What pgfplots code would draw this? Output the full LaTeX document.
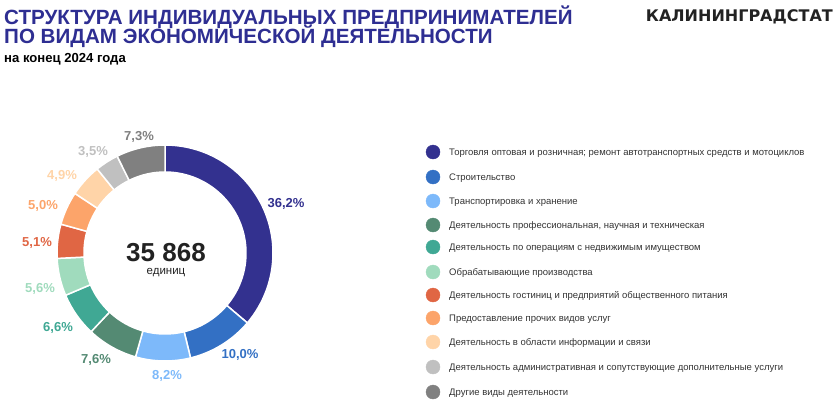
\documentclass[border=0pt]{standalone}
\usepackage{fontspec}
\setmainfont{Liberation Sans}
\newfontfamily\headfont{DejaVu Sans}
\usepackage{pgfplots}
\usepackage{pgfplotstable}
\pgfplotsset{compat=1.18}
\definecolor{c0}{HTML}{33318F}
\definecolor{c1}{HTML}{3370C4}
\definecolor{c2}{HTML}{7DB9FA}
\definecolor{c3}{HTML}{548A73}
\definecolor{c4}{HTML}{40A894}
\definecolor{c5}{HTML}{A0DBBD}
\definecolor{c6}{HTML}{E06644}
\definecolor{c7}{HTML}{FCA46A}
\definecolor{c8}{HTML}{FFD4A8}
\definecolor{c9}{HTML}{C0C0C0}
\definecolor{c10}{HTML}{808080}
\definecolor{titleblue}{HTML}{2E2E92}
\definecolor{dark}{HTML}{222222}
\definecolor{legtext}{HTML}{333333}
\newcommand\labfont{\fontsize{13}{15}\selectfont\bfseries}
\newcommand\legfont{\fontsize{9.5}{11}\selectfont}
\newcommand\titlefont{\fontsize{20.6}{24}\selectfont\bfseries}
\pgfplotstableread{
v lx ly
36.2 286 204
10.0 240 355
8.2 167 376
7.6 96 360
6.6 58 328
5.6 40 289
5.1 37 243
5.0 43 206
4.9 62 176
3.5 93 152
7.3 139 137
}\data
\begin{document}
\begin{tikzpicture}
\useasboundingbox (0,0) rectangle (840pt,405pt);
\begin{axis}[at={(0,0)}, anchor=south west, width=840pt, height=405pt, scale only axis,
  xmin=0, xmax=840, ymin=0, ymax=405, y dir=reverse, hide axis, clip=false,
  /pgf/number format/assume math mode=true]
\def\cum{0}
\pgfplotsforeachungrouped \i in {0,...,10}{%
  \pgfplotstablegetelem{\i}{v}\of\data \let\v\pgfplotsretval
  \pgfplotstablegetelem{\i}{lx}\of\data \let\lx\pgfplotsretval
  \pgfplotstablegetelem{\i}{ly}\of\data \let\ly\pgfplotsretval
  \pgfmathsetmacro\aA{90-3.6*\cum}%
  \pgfmathsetmacro\aB{90-3.6*(\cum+\v)}%
  \edef\tmp{\noexpand\fill[c\i, draw=white, line width=1.5pt] ([shift={(\aA:108pt)}]axis cs:165,253) arc[start angle=\aA, end angle=\aB, radius=108pt] -- ([shift={(\aB:81pt)}]axis cs:165,253) arc[start angle=\aB, end angle=\aA, radius=81pt] -- cycle;
  \noexpand\node[text=c\i, font=\noexpand\labfont, inner sep=0pt] at (axis cs:\lx,\ly) {\noexpand\pgfmathprintnumber[fixed,fixed zerofill,precision=1,use comma]{\v}\noexpand\%};}%
  \tmp
  \pgfmathsetmacro\cum{\cum+\v}%
}
% centre
\node[anchor=base, inner sep=0pt, text=dark, font=\fontsize{26}{30}\selectfont\bfseries] at (axis cs:166,261) {35 868};
\node[anchor=base, inner sep=0pt, text=dark, font=\fontsize{11.5}{13}\selectfont] at (axis cs:166,274.5) {единиц};
% titles
\node[anchor=base west, inner sep=0pt, text=titleblue, font=\titlefont] at (axis cs:4,24) {СТРУКТУРА ИНДИВИДУАЛЬНЫХ ПРЕДПРИНИМАТЕЛЕЙ};
\node[anchor=base west, inner sep=0pt, text=titleblue, font=\titlefont] at (axis cs:4,43.5) {ПО ВИДАМ ЭКОНОМИЧЕСКОЙ ДЕЯТЕЛЬНОСТИ};
\node[anchor=base west, inner sep=0pt, text=black, font=\fontsize{13.1}{15}\selectfont\bfseries] at (axis cs:4,62) {на конец 2024 года};
\node[anchor=base east, inner sep=0pt, text=dark, font=\headfont\fontsize{16}{18}\selectfont\bfseries] at (axis cs:833,21.5) {КАЛИНИНГРАДСТАТ};
% legend
\addplot[only marks, mark=*, mark size=7pt, color=c0] coordinates {(433,152)};
\addplot[only marks, mark=*, mark size=7pt, color=c1] coordinates {(433,177)};
\addplot[only marks, mark=*, mark size=7pt, color=c2] coordinates {(433,201)};
\addplot[only marks, mark=*, mark size=7pt, color=c3] coordinates {(433,225)};
\addplot[only marks, mark=*, mark size=7pt, color=c4] coordinates {(433,247)};
\addplot[only marks, mark=*, mark size=7pt, color=c5] coordinates {(433,272)};
\addplot[only marks, mark=*, mark size=7pt, color=c6] coordinates {(433,295)};
\addplot[only marks, mark=*, mark size=7pt, color=c7] coordinates {(433,318)};
\addplot[only marks, mark=*, mark size=7pt, color=c8] coordinates {(433,342)};
\addplot[only marks, mark=*, mark size=7pt, color=c9] coordinates {(433,367)};
\addplot[only marks, mark=*, mark size=7pt, color=c10] coordinates {(433,392)};
\node[anchor=base west, inner sep=0pt, text=legtext, font=\legfont] at (axis cs:449,155.5) {Торговля оптовая и розничная; ремонт автотранспортных средств и мотоциклов};
\node[anchor=base west, inner sep=0pt, text=legtext, font=\legfont] at (axis cs:449,180.5) {Строительство};
\node[anchor=base west, inner sep=0pt, text=legtext, font=\legfont] at (axis cs:449,204.5) {Транспортировка и хранение};
\node[anchor=base west, inner sep=0pt, text=legtext, font=\legfont] at (axis cs:449,228.5) {Деятельность профессиональная, научная и техническая};
\node[anchor=base west, inner sep=0pt, text=legtext, font=\legfont] at (axis cs:449,250.5) {Деятельность по операциям с недвижимым имуществом};
\node[anchor=base west, inner sep=0pt, text=legtext, font=\legfont] at (axis cs:449,275.5) {Обрабатывающие производства};
\node[anchor=base west, inner sep=0pt, text=legtext, font=\legfont] at (axis cs:449,298.5) {Деятельность гостиниц и предприятий общественного питания};
\node[anchor=base west, inner sep=0pt, text=legtext, font=\legfont] at (axis cs:449,321.5) {Предоставление прочих видов услуг};
\node[anchor=base west, inner sep=0pt, text=legtext, font=\legfont] at (axis cs:449,345.5) {Деятельность в области информации и связи};
\node[anchor=base west, inner sep=0pt, text=legtext, font=\legfont] at (axis cs:449,370.5) {Деятельность административная и сопутствующие дополнительные услуги};
\node[anchor=base west, inner sep=0pt, text=legtext, font=\legfont] at (axis cs:449,395.5) {Другие виды деятельности};
\end{axis}
\end{tikzpicture}
\end{document}
